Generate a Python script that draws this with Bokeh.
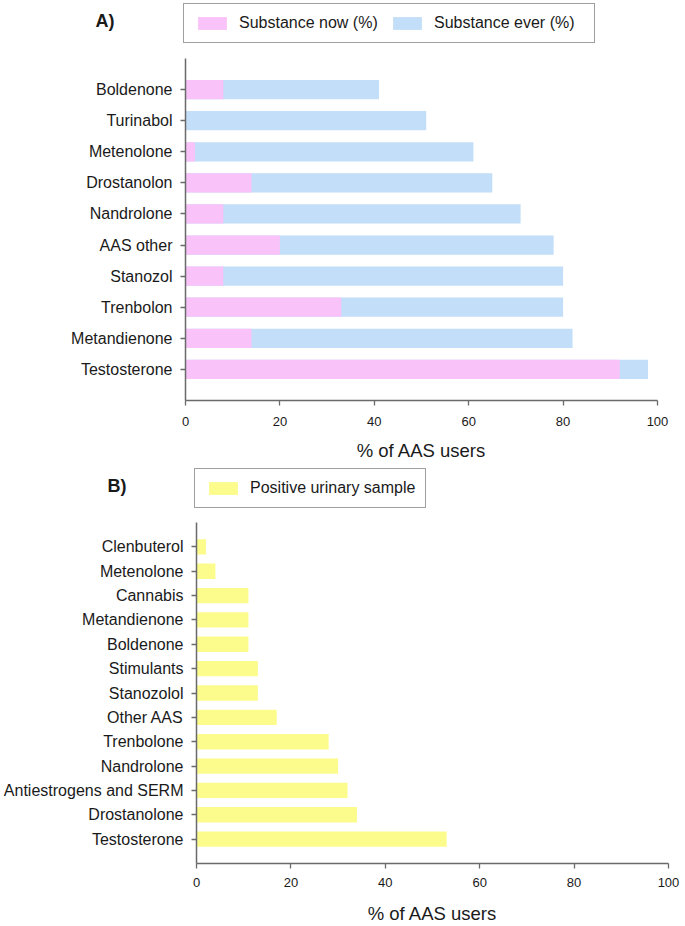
from bokeh.plotting import figure
from bokeh.models import (Range1d, FixedTicker, Legend, LegendItem, Label, ColumnDataSource)
from bokeh.layouts import column, row
from bokeh.embed import file_html
from bokeh.resources import INLINE

# ---- Data (top-to-bottom order as in the picture) ----
a_substances = ["Boldenone", "Turinabol", "Metenolone", "Drostanolon", "Nandrolone",
                "AAS other", "Stanozol", "Trenbolon", "Metandienone", "Testosterone"]
a_ever = [41, 51, 61, 65, 71, 78, 80, 80, 82, 98]
a_now = [8, 0, 2, 14, 8, 20, 8, 33, 14, 92]

b_substances = ["Clenbuterol", "Metenolone", "Cannabis", "Metandienone", "Boldenone",
                "Stimulants", "Stanozolol", "Other AAS", "Trenbolone", "Nandrolone",
                "Antiestrogens and SERM", "Drostanolone", "Testosterone"]
b_positive = [2, 4, 11, 11, 11, 13, 13, 17, 28, 30, 32, 34, 53]

x_ticks = [0, 20, 40, 60, 80, 100]
x_title = "% of AAS users"
a_series = ["Substance now (%)", "Substance ever (%)"]
b_series = ["Positive urinary sample"]

FONT = "Liberation Sans"
PINK = "#F9C2F9"
BLUE = "#C2DEF9"
YELLOW = "#FCFC8C"
AXIS = "#6a6a6a"
TXT = "#1a1a1a"
W = 685

na = len(a_substances)
nb = len(b_substances)
src_a = ColumnDataSource(dict(y=[na - 1 - i for i in range(na)], ever=a_ever, now=a_now))
src_b = ColumnDataSource(dict(y=[nb - 1 - i for i in range(nb)], pos=b_positive))


def style(p, labels, tick_standoff, label_standoff):
    n = len(labels)
    p.xaxis.ticker = FixedTicker(ticks=x_ticks)
    p.yaxis.ticker = FixedTicker(ticks=list(range(n)))
    p.yaxis.major_label_overrides = {n - 1 - i: lab for i, lab in enumerate(labels)}
    p.xgrid.visible = False
    p.ygrid.visible = False
    p.outline_line_color = None
    for ax in (p.xaxis[0], p.yaxis[0]):
        ax.axis_line_color = AXIS
        ax.axis_line_width = 1.5
        ax.major_tick_line_color = AXIS
        ax.major_tick_line_width = 1.3
        ax.major_tick_out = 5
        ax.major_tick_in = 0
        ax.minor_tick_line_color = None
        ax.major_label_text_font = FONT
        ax.major_label_text_color = TXT
    p.xaxis.major_label_text_font_size = "13px"
    p.yaxis.major_label_text_font_size = "16px"
    p.yaxis.major_label_standoff = 8
    p.xaxis.major_label_standoff = tick_standoff
    p.xaxis.axis_label = x_title
    p.xaxis.axis_label_standoff = label_standoff
    p.xaxis.axis_label_text_font = FONT
    p.xaxis.axis_label_text_font_size = "18.5px"
    p.xaxis.axis_label_text_font_style = "normal"
    p.xaxis.axis_label_text_color = TXT


def header(height, letter, letter_x, names, colors, src, fields, box_x, box_bottom):
    h = figure(width=W, height=height, output_backend="svg", toolbar_location=None,
               x_range=Range1d(0, W), y_range=Range1d(height, 0),
               min_border=0, min_border_left=0, min_border_right=0,
               min_border_top=0, min_border_bottom=0)
    h.axis.visible = False
    h.grid.visible = False
    h.outline_line_color = None
    items = []
    for name, col, fld in zip(names, colors, fields):
        # zero-height bars: only their legend swatch is visible
        r = h.hbar(y="y", right=fld, left=0, height=0, source=src,
                   fill_color=col, line_color=None)
        items.append(LegendItem(label=name, renderers=[r]))
    leg = Legend(items=items, orientation="horizontal", location=(box_x, box_bottom),
                 margin=0, padding=10, spacing=0, glyph_width=36, glyph_height=16,
                 label_height=16, label_width=150, label_standoff=9,
                 label_text_font=FONT, label_text_font_size="16px", label_text_color=TXT,
                 border_line_color="#404040", border_line_width=1.3,
                 background_fill_color="white", background_fill_alpha=1.0)
    h.add_layout(leg)
    h.add_layout(Label(x=letter_x, y=20, text=letter, text_font=FONT,
                       text_font_size="18px", text_font_style="bold",
                       text_baseline="middle", text_align="left", text_color=TXT))
    return h


# ---- Panel A ----
ha = header(53, "A)", 95, a_series, [PINK, BLUE], src_a, ["now", "ever"], 183, 10)

pa = figure(width=W, height=412, output_backend="svg", toolbar_location=None,
            x_range=Range1d(0, 100), y_range=Range1d(-1, na),
            min_border_left=185, min_border_right=28, min_border_top=5, min_border_bottom=65)
pa.hbar(y="y", right="ever", left=0, height=0.62, source=src_a,
        fill_color=BLUE, line_color=None)
pa.hbar(y="y", right="now", left=0, height=0.62, source=src_a,
        fill_color=PINK, line_color=None)
style(pa, a_substances, 11, 11)

# ---- Panel B ----
hb = header(55, "B)", 107, b_series, [YELLOW], src_b, ["pos"], 194, 12)

pb = figure(width=W, height=406, output_backend="svg", toolbar_location=None,
            x_range=Range1d(0, 100), y_range=Range1d(-1, nb),
            min_border_left=196, min_border_right=17, min_border_top=2, min_border_bottom=63)
pb.hbar(y="y", right="pos", left=0, height=0.63, source=src_b,
        fill_color=YELLOW, line_color=None)
style(pb, b_substances, 9, 13)

layout = column(row(ha), row(pa), row(hb), row(pb), spacing=0)
open("out.html", "w").write(file_html(layout, INLINE))
